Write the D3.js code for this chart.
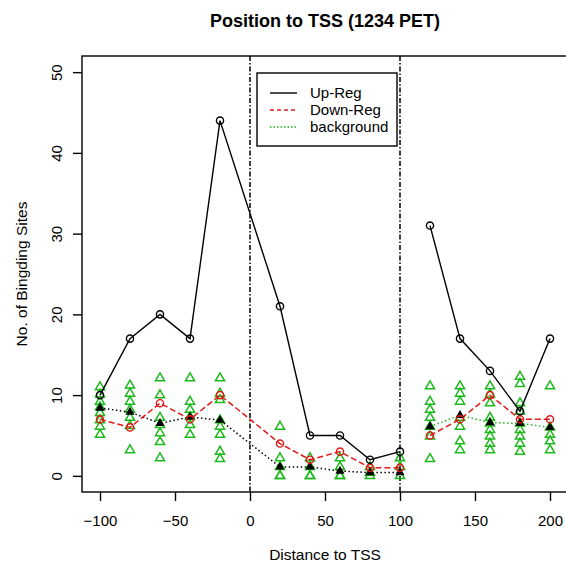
<!DOCTYPE html>
<html>
<head>
<meta charset="utf-8">
<script src="https://cdn.jsdelivr.net/npm/d3@7"></script>
<style>
  body { margin: 0; background: #fff; }
  text { font-family: "Liberation Sans", Arial, sans-serif; }
</style>
</head>
<body>
<div id="chart"></div>
<script>
// positions relative to TSS
var positions = [-100, -80, -60, -40, -20, 20, 40, 60, 80, 100, 120, 140, 160, 180, 200];
// which line piece each point belongs to (lines break between 100 and 120)
var pieces = [0, 0, 0, 0, 0, 0, 0, 0, 0, 0, 1, 1, 1, 1, 1];

var upReg = [10, 17, 20, 17, 44, 21, 5, 5, 2, 3, 31, 17, 13, 8, 17];
var downReg = [7, 6, 9, 7, 10, 4, 2, 3, 1, 1, 5, 7, 10, 7, 7];
var bgMean = [8.4, 7.9, 6.5, 7.3, 6.9, 1.1, 1.1, 0.6, 0.4, 0.4, 6.1, 7.5, 6.6, 6.5, 6.0];

// background samples, one list per position
var bgSamples = [
    [11, 10.1, 9.2, 8.5, 7.8, 6.9, 6.1, 5.1],
    [11.2, 10.2, 9.2, 8.2, 7.2, 6.2, 3.2],
    [12.1, 10, 7.2, 6.3, 5.3, 4.2, 2.2],
    [12.1, 9.2, 8.2, 7.3, 6.3, 5.1],
    [12.1, 10.2, 9.4, 6.9, 6.1, 5.1, 3.0, 2.1],
    [6.1, 2.2, 1.1, 0, 0],
    [2.2, 1.1, 0, 0],
    [2.2, 1.1, 0, 0],
    [1.1, 0.4, 0],
    [2.2, 1.1, 0],
    [11.1, 9.2, 8.2, 7.2, 6.1, 4.9, 2.1],
    [11.1, 10.2, 9.2, 7.2, 6.1, 4.3, 3.2],
    [11.1, 10.1, 9, 7.2, 6.5, 5.7, 4.9, 4.0, 3.2],
    [12.3, 11.4, 9.0, 8.0, 6.5, 5.7, 4.9, 4.0, 3.0],
    [11.1, 6.0, 5.1, 4.3, 3.2]
];

var xTicks = [-100, -50, 0, 50, 100, 150, 200];
var yTicks = [0, 10, 20, 30, 40, 50];
var tssLines = [0, 100];
var legendLabels = ["Up-Reg", "Down-Reg", "background"];

var W = 566, H = 566;
var green = "#1cb81c", red = "#e01818";

var svg = d3.select("#chart").append("svg")
    .attr("width", W)
    .attr("height", H);

// R style 4% padding on both axes
var xScale = d3.scaleLinear().domain([-112, 212]).range([82, 568]);
var yScale = d3.scaleLinear().domain([-2, 52]).range([492, 56]);

var rows = positions.map(function(p, i) {
    return { x: p, piece: pieces[i], up: upReg[i], down: downReg[i], bg: bgMean[i], samples: bgSamples[i] };
});
var byPiece = d3.groups(rows, function(d) { return d.piece; }).map(function(g) { return g[1]; });

// plot box
svg.append("rect")
    .attr("x", xScale.range()[0])
    .attr("y", yScale.range()[1])
    .attr("width", xScale.range()[1] - xScale.range()[0])
    .attr("height", yScale.range()[0] - yScale.range()[1])
    .attr("fill", "none")
    .attr("stroke", "#000")
    .attr("stroke-width", 1.4);

// x axis
var xAxis = svg.append("g")
    .attr("transform", "translate(0," + yScale.range()[0] + ")")
    .call(d3.axisBottom(xScale).tickValues(xTicks).tickSize(9).tickPadding(14).tickSizeOuter(0));
xAxis.select(".domain").remove();
xAxis.selectAll("line").attr("stroke-width", 1.4);
xAxis.selectAll("text").attr("font-size", 15).attr("fill", "#000")
    .attr("font-family", "Liberation Sans, Arial, sans-serif");

// y axis, labels turned like R
var yAxis = svg.append("g")
    .attr("transform", "translate(" + xScale.range()[0] + ",0)")
    .call(d3.axisLeft(yScale).tickValues(yTicks).tickSize(9).tickSizeOuter(0));
yAxis.select(".domain").remove();
yAxis.selectAll("line").attr("stroke-width", 1.4);
yAxis.selectAll("text")
    .attr("x", null).attr("dy", null)
    .attr("transform", "translate(-20,0) rotate(-90)")
    .attr("text-anchor", "middle")
    .attr("font-size", 15).attr("fill", "#000")
    .attr("font-family", "Liberation Sans, Arial, sans-serif");

// titles
svg.append("text")
    .attr("x", 325).attr("y", 27)
    .attr("text-anchor", "middle")
    .attr("font-size", 18).attr("font-weight", "bold")
    .text("Position to TSS (1234 PET)");
svg.append("text")
    .attr("x", 325).attr("y", 560)
    .attr("text-anchor", "middle")
    .attr("font-size", 15.5)
    .text("Distance to TSS");
svg.append("text")
    .attr("transform", "translate(27,274) rotate(-90)")
    .attr("text-anchor", "middle")
    .attr("font-size", 15.5)
    .text("No. of Bingding Sites");

// dot-dash lines at TSS 0 and 100
svg.selectAll(".tss")
    .data(tssLines)
    .enter().append("line")
    .attr("class", "tss")
    .attr("x1", function(d) { return xScale(d); })
    .attr("x2", function(d) { return xScale(d); })
    .attr("y1", yScale.range()[1])
    .attr("y2", yScale.range()[0])
    .attr("stroke", "#000")
    .attr("stroke-width", 1.5)
    .attr("stroke-dasharray", "5,2,1.5,2");

// green open triangles for each background sample
var tri = d3.symbol().type(d3.symbolTriangle).size(36);
var samplePts = [];
rows.forEach(function(r) {
    r.samples.forEach(function(v) { samplePts.push({ x: r.x, y: v }); });
});
svg.selectAll(".sample")
    .data(samplePts)
    .enter().append("path")
    .attr("class", "sample")
    .attr("d", tri)
    .attr("transform", function(d) { return "translate(" + xScale(d.x) + "," + yScale(d.y) + ")"; })
    .attr("fill", "none")
    .attr("stroke", green)
    .attr("stroke-width", 1.5);

function lineFor(key) {
    return d3.line()
        .x(function(d) { return xScale(d.x); })
        .y(function(d) { return yScale(d[key]); });
}

// background mean: black dotted on the left piece, green dotted on the right
svg.selectAll(".bgline")
    .data(byPiece)
    .enter().append("path")
    .attr("class", "bgline")
    .attr("d", lineFor("bg"))
    .attr("fill", "none")
    .attr("stroke", function(d) { return d[0].piece == 0 ? "#000" : green; })
    .attr("stroke-width", 1.5)
    .attr("stroke-dasharray", "1.5,2.5");

// down-reg red dashed
svg.selectAll(".downline")
    .data(byPiece)
    .enter().append("path")
    .attr("class", "downline")
    .attr("d", lineFor("down"))
    .attr("fill", "none")
    .attr("stroke", red)
    .attr("stroke-width", 1.5)
    .attr("stroke-dasharray", "6,3");

// up-reg black solid
svg.selectAll(".upline")
    .data(byPiece)
    .enter().append("path")
    .attr("class", "upline")
    .attr("d", lineFor("up"))
    .attr("fill", "none")
    .attr("stroke", "#000")
    .attr("stroke-width", 1.4);

// points
svg.selectAll(".bgpt")
    .data(rows)
    .enter().append("path")
    .attr("class", "bgpt")
    .attr("d", tri)
    .attr("transform", function(d) { return "translate(" + xScale(d.x) + "," + yScale(d.bg) + ")"; })
    .attr("fill", "#000");

svg.selectAll(".downpt")
    .data(rows)
    .enter().append("circle")
    .attr("class", "downpt")
    .attr("cx", function(d) { return xScale(d.x); })
    .attr("cy", function(d) { return yScale(d.down); })
    .attr("r", 3.6)
    .attr("fill", "none")
    .attr("stroke", red)
    .attr("stroke-width", 1.4);

svg.selectAll(".uppt")
    .data(rows)
    .enter().append("circle")
    .attr("class", "uppt")
    .attr("cx", function(d) { return xScale(d.x); })
    .attr("cy", function(d) { return yScale(d.up); })
    .attr("r", 3.6)
    .attr("fill", "none")
    .attr("stroke", "#000")
    .attr("stroke-width", 1.4);

// legend
var legend = svg.append("g").attr("transform", "translate(257,73)");
legend.append("rect")
    .attr("width", 140).attr("height", 73)
    .attr("fill", "#fff")
    .attr("stroke", "#000")
    .attr("stroke-width", 1.4);
var legendStyles = [
    { color: "#000", dash: null },
    { color: red, dash: "4,3" },
    { color: green, dash: "1.5,2" }
];
var item = legend.selectAll(".item")
    .data(legendLabels)
    .enter().append("g")
    .attr("class", "item")
    .attr("transform", function(d, i) { return "translate(0," + (20 + i * 17) + ")"; });
item.append("line")
    .attr("x1", 13).attr("x2", 40)
    .attr("stroke", function(d, i) { return legendStyles[i].color; })
    .attr("stroke-width", 1.4)
    .attr("stroke-dasharray", function(d, i) { return legendStyles[i].dash; });
item.append("text")
    .attr("x", 53).attr("dy", "0.35em")
    .attr("font-size", 15)
    .text(function(d) { return d; });
</script>
</body>
</html>
